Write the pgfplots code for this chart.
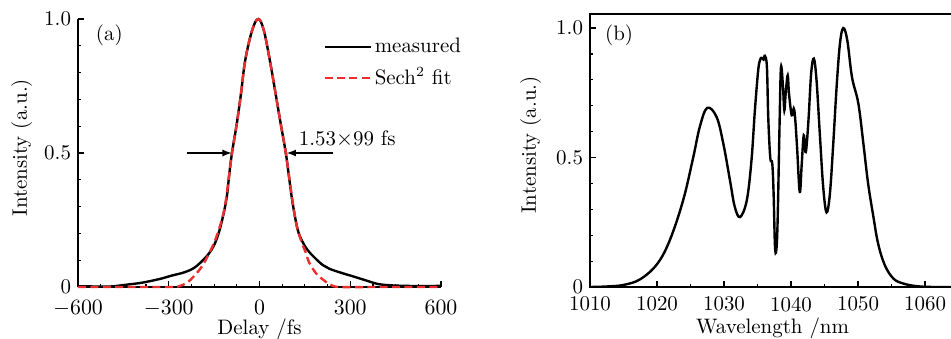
\documentclass[border=0pt]{standalone}
\usepackage{pgfplots}
\pgfplotsset{compat=1.18}
\definecolor{fitred}{rgb}{0.92,0.18,0.18}
\begin{document}
\begin{tikzpicture}
\path[use as bounding box] (0,0) rectangle (475.5bp,169.5bp);
\begin{axis}[
  at={(39bp,26bp)}, anchor=south west, scale only axis,
  width=181.5bp, height=134bp,
  xmin=-600, xmax=600, ymin=0, ymax=1,
  axis x line*=bottom, axis y line*=left,
  axis line style={line width=0.8bp, -},
  tick align=inside,
  font=\fontsize{10.5}{12.6}\selectfont,
  xtick={-600,-300,0,300,600},
  minor xtick={-525,-450,-375,-225,-150,-75,75,150,225,375,450,525},
  ytick={0,0.5,1}, yticklabels={0,0.5,1.0},
  minor ytick={0.1,0.2,0.3,0.4,0.6,0.7,0.8,0.9},
  major tick length=2.8bp, minor tick length=1.6bp,
  every tick/.style={black, line width=0.6bp},
  xticklabel style={yshift=-3.2bp},
  xlabel={Delay /fs}, ylabel={Intensity (a.u.)},
  xlabel style={at={(axis description cs:0.5,-0.176)}, anchor=base},
  ylabel style={at={(axis description cs:-0.141,0.52)}, anchor=base},
  legend style={at={(rel axis cs:0.675,0.94)}, anchor=north west, draw=none, fill=none,
    inner sep=0pt, row sep=3bp, nodes={inner sep=1.5bp},
    /tikz/every even column/.append style={column sep=2bp}},
  legend cell align=left,
  legend image code/.code={\draw[#1] (0bp,0bp) -- (23bp,0bp);},
  clip=false,
]
\addplot[black, line width=1.2bp, smooth, tension=0.6] coordinates {
(-600,0.003) (-550,0.002) (-492,0.002) (-437,0.009) (-400,0.014) (-370,0.02) (-326,0.031)
(-292,0.042) (-248,0.055) (-214,0.073) (-181,0.107) (-159,0.138) (-142,0.178) (-126,0.238)
(-109,0.33) (-100,0.42) (-91,0.50) (-75,0.61) (-61,0.723) (-47,0.847) (-24,0.959) (-4,1.0)
(14,0.959) (34,0.847) (53,0.723) (70,0.61) (87,0.50) (100,0.39) (110,0.31) (126,0.215)
(142,0.169) (159,0.138) (181,0.111) (209,0.082) (231,0.068) (270,0.053) (314,0.038)
(359,0.022) (392,0.011) (437,0.006) (492,0.004) (559,0.003) (600,0.005)
};
\addlegendentry{measured}
\addplot[fitred, line width=1.2bp, dash pattern=on 4bp off 2.2bp, smooth, tension=0.6] coordinates {
(-600,0) (-400,0) (-300,0) (-268,0.002) (-240,0.016) (-220,0.036) (-200,0.062) (-187,0.082)
(-170,0.118) (-155,0.152) (-142,0.188) (-126,0.245) (-113,0.31) (-100,0.42) (-91,0.50)
(-75,0.61) (-61,0.723) (-47,0.847) (-24,0.959) (-4,1.0) (14,0.959) (34,0.847) (53,0.723)
(70,0.61) (87,0.50) (103,0.37) (120,0.245) (137,0.175) (153,0.128) (164,0.092) (187,0.051)
(214,0.024) (237,0.007) (270,0) (400,0) (600,0)
};
\addlegendentry{Sech$^2$ fit}
\draw[-latex, line width=0.6bp] (axis cs:-240,0.5) -- (axis cs:-92,0.5);
\draw[-latex, line width=0.6bp] (axis cs:243,0.5) -- (axis cs:90,0.5);
\node[anchor=base west, inner sep=0pt] at (axis cs:129,0.527) {1.53$\times$99 fs};
\node[anchor=base west, inner sep=0pt] at (axis cs:-542,0.92) {(a)};
\end{axis}

\begin{axis}[
  at={(295bp,26bp)}, anchor=south west, scale only axis,
  width=182.6bp, height=136.6bp,
  xmin=1010, xmax=1064.5, ymin=0, ymax=1.055,
  axis line style={line width=0.8bp},
  tick align=inside, tick pos=left,
  font=\fontsize{10.5}{12.6}\selectfont,
  xtick={1010,1020,1030,1040,1050,1060},
  xticklabels={1010,1020,1030,1040,1050,1060},
  xticklabel style={yshift=-1.5bp},
  minor xtick={1015,1025,1035,1045,1055},
  ytick={0,0.5,1}, yticklabels={0,0.5,1.0},
  minor ytick={0.1,0.2,0.3,0.4,0.6,0.7,0.8,0.9},
  major tick length=2.8bp, minor tick length=1.6bp,
  every tick/.style={black, line width=0.6bp},
  xlabel={Wavelength /nm}, ylabel={Intensity (a.u.)},
  xlabel style={at={(axis description cs:0.5,-0.172)}, anchor=base},
  ylabel style={at={(axis description cs:-0.148,0.52)}, anchor=base},
]
\addplot[black, line width=1.2bp, smooth, tension=0.6] coordinates {
(1010,0) (1012.5,0.002) (1015,0.008) (1017.5,0.03) (1020,0.088) (1021.9,0.18) (1023.9,0.335)
(1025.4,0.50) (1026.4,0.62) (1027.5,0.692) (1028.9,0.656) (1029.9,0.553) (1030.9,0.41)
(1031.6,0.31) (1032.4,0.27) (1033.4,0.335) (1034.1,0.49) (1034.6,0.68) (1035.1,0.837)
(1035.4,0.878) (1035.6,0.885) (1035.9,0.878) (1036.1,0.893) (1036.4,0.85) (1036.6,0.656)
(1036.9,0.50) (1037.2,0.476) (1037.4,0.36) (1037.6,0.16) (1037.8,0.142) (1038.0,0.257)
(1038.3,0.643) (1038.5,0.849) (1038.8,0.772) (1039.0,0.682) (1039.2,0.746) (1039.5,0.817)
(1039.7,0.746) (1040.1,0.663) (1040.4,0.689) (1040.6,0.656) (1040.9,0.54) (1041.3,0.367)
(1041.6,0.476) (1041.9,0.586) (1042.2,0.521) (1042.6,0.643) (1043.0,0.824) (1043.4,0.882)
(1043.8,0.80) (1044.3,0.59) (1044.8,0.386) (1045.3,0.288) (1045.8,0.36) (1046.3,0.553)
(1046.8,0.772) (1047.3,0.94) (1047.8,1.0) (1048.4,0.952) (1049.1,0.81) (1050.05,0.708)
(1050.8,0.553) (1051.5,0.40) (1052.3,0.27) (1053.0,0.167) (1054.0,0.084) (1055.3,0.032)
(1056.8,0.013) (1058.8,0.003) (1061.2,0) (1064.5,0)
};
\node[anchor=base west, inner sep=0pt] at (axis cs:1012.2,0.952) {(b)};
\end{axis}
\end{tikzpicture}
\end{document}
